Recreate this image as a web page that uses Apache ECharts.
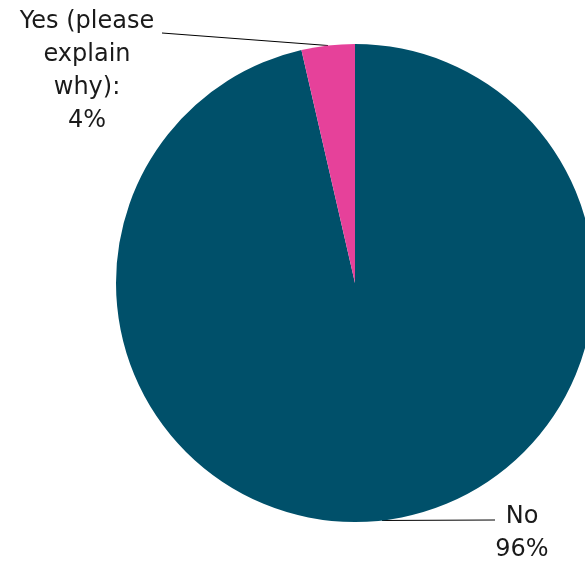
<!DOCTYPE html>
<html>
<head>
<meta charset="utf-8">
<script src="https://cdn.jsdelivr.net/npm/echarts@6/dist/echarts.min.js"></script>
<style>
html,body{margin:0;padding:0;background:#fff;}
#chart{width:585px;height:561px;}
</style>
</head>
<body>
<div id="chart"></div>
<script>
// Data
const categories = ['No', 'Yes (please\nexplain\nwhy):'];
const values = [96.4, 3.6];
const colors = ['#00506A', '#E6419A'];

const chart = echarts.init(document.getElementById('chart'), null, {renderer: 'canvas'});

// label placement (style only)
const labelPos = [
  {x: 522, y: 533, lineEnd: [495, 520]},
  {x: 87, y: 71, lineEnd: [162, 33]}
];

chart.setOption({
  backgroundColor: '#ffffff',
  animation: false,
  series: [{
    type: 'pie',
    center: [355, 283],
    radius: 239,
    startAngle: 90,
    clockwise: true,
    avoidLabelOverlap: false,
    data: categories.map((c, i) => ({
      name: c,
      value: values[i],
      itemStyle: {color: colors[i]}
    })),
    itemStyle: {borderWidth: 0},
    label: {
      show: true,
      position: 'outside',
      formatter: p => p.name + '\n' + Math.round(p.percent) + '%',
      fontFamily: 'DejaVu Sans',
      fontSize: 24,
      lineHeight: 33,
      color: '#1a1a1a',
      align: 'center'
    },
    labelLine: {
      show: true,
      length: 10,
      length2: 10,
      lineStyle: {color: '#000000', width: 1}
    },
    labelLayout: function (params) {
      const pos = labelPos[params.dataIndex];
      const pts = params.labelLinePoints;
      const anchor = pts ? pts[0] : pos.lineEnd;
      return {
        x: pos.x, y: pos.y, align: 'center', verticalAlign: 'middle',
        labelLinePoints: [anchor, pos.lineEnd, pos.lineEnd]
      };
    },
    emphasis: {disabled: true}
  }]
});
</script>
</body>
</html>
